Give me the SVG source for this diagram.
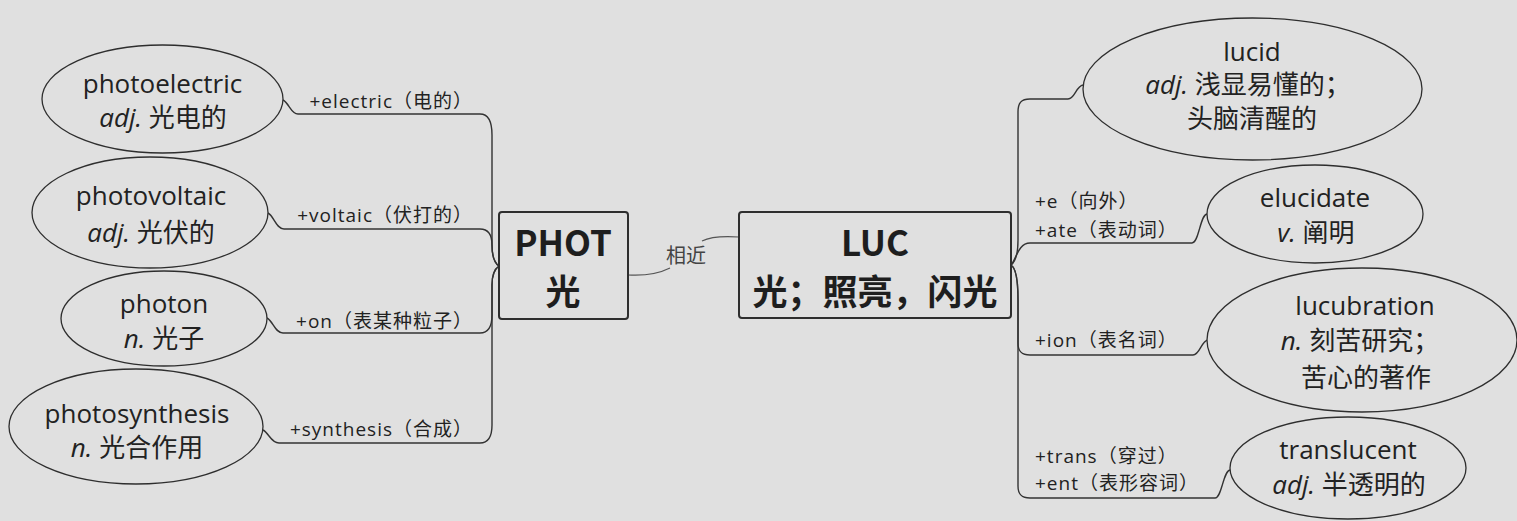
<svg xmlns="http://www.w3.org/2000/svg" width="1517" height="521" viewBox="0 0 1517 521">
<defs>
<style>
.bg{fill:#e0e0e0}
.ell{fill:#e0e0e0;stroke:#2e2e2e;stroke-width:1.3}
.box{fill:#e0e0e0;stroke:#2e2e2e;stroke-width:2}
.con{fill:none;stroke:#333;stroke-width:1.4}
.rel{fill:none;stroke:#555;stroke-width:1.2}
.t{font-family:"Open Sans","Noto Sans CJK SC",sans-serif;font-size:26px;fill:#222;text-anchor:middle}
.it{font-style:italic}
.lbl{font-family:"Open Sans","Noto Sans CJK SC",sans-serif;font-size:19px;letter-spacing:1px;fill:#222}
.end{text-anchor:end}
.big{font-family:"Noto Sans CJK SC","Open Sans",sans-serif;font-size:35px;font-weight:bold;fill:#1e1e1e;text-anchor:middle}
.rl{font-family:"Noto Sans CJK SC",sans-serif;font-size:20px;fill:#444}
</style>
</defs>
<rect class="bg" x="0" y="0" width="1517" height="521"/>
<g id="connectors">
<path class="con" d="M283,100 C289,103 291,114 298,114 H480 C489,114 492,122 492,135 V245 C492,258 496,264 499,266"/>
<path class="con" d="M268,213 C274,216 276,229 284,229 H480 C489,229 492,236 492,245 C492,258 496,264 499,266"/>
<path class="con" d="M267,318 C273,321 275,333 283,333 H480 C489,333 492,326 492,315 V285 C492,272 496,268 499,266"/>
<path class="con" d="M263,430 C269,433 271,443 279,443 H480 C489,443 492,436 492,425 V285 C492,272 496,268 499,266"/>
<path class="con" d="M1011,265 C1015,262 1018,255 1018,240 V112 C1018,103 1021,99 1030,99 H1068 C1075,99 1076,86 1083,85"/>
<path class="con" d="M1011,265 C1016,260 1018,243 1030,243 H1192 C1199,243 1200,215 1207,214"/>
<path class="con" d="M1011,265 C1016,268 1018,278 1018,300 V343 C1018,351 1021,355 1030,355 H1193 C1200,355 1201,341 1208,340"/>
<path class="con" d="M1011,265 C1016,268 1018,278 1018,300 V486 C1018,494 1021,498 1030,498 H1215 C1222,498 1223,471 1230,470"/>
<path class="rel" d="M628,275 C645,276 660,273 670,268"/>
<path class="rel" d="M702,241 C712,236 725,236 739,237"/>
<text class="rl" x="666" y="263">相近</text>
<text class="lbl end" x="473" y="108">+electric（电的）</text>
<text class="lbl end" x="473" y="222">+voltaic（伏打的）</text>
<text class="lbl end" x="473" y="328">+on（表某种粒子）</text>
<text class="lbl end" x="473" y="436">+synthesis（合成）</text>
<text class="lbl" x="1035" y="208">+e（向外）</text>
<text class="lbl" x="1035" y="237">+ate（表动词）</text>
<text class="lbl" x="1035" y="347">+ion（表名词）</text>
<text class="lbl" x="1035" y="463">+trans（穿过）</text>
<text class="lbl" x="1035" y="490">+ent（表形容词）</text>
</g>
<g id="phot">
<rect class="box" x="499" y="212" width="129" height="107" rx="3"/>
<text class="big" x="563" y="256">PHOT</text>
<text class="big" x="563" y="305">光</text>
</g>
<g id="luc">
<rect class="box" x="739" y="212" width="272" height="106" rx="3"/>
<text class="big" x="875" y="256">LUC</text>
<text class="big" x="875" y="305">光；照亮，闪光</text>
</g>
<g id="photoelectric">
<ellipse class="ell" cx="162.5" cy="99" rx="120.5" ry="54"/>
<text class="t" x="162.5" y="93">photoelectric</text>
<text class="t" x="163" y="127"><tspan class="it">adj.</tspan> 光电的</text>
</g>
<g id="photovoltaic">
<ellipse class="ell" cx="150" cy="212.5" rx="118" ry="55.5"/>
<text class="t" x="151" y="205">photovoltaic</text>
<text class="t" x="151" y="242"><tspan class="it">adj.</tspan> 光伏的</text>
</g>
<g id="photon">
<ellipse class="ell" cx="164" cy="318.5" rx="103" ry="47.5"/>
<text class="t" x="164" y="313">photon</text>
<text class="t" x="164" y="348"><tspan class="it">n.</tspan> 光子</text>
</g>
<g id="photosynthesis">
<ellipse class="ell" cx="136" cy="426.5" rx="127" ry="57.5"/>
<text class="t" x="137" y="423">photosynthesis</text>
<text class="t" x="137" y="457"><tspan class="it">n.</tspan> 光合作用</text>
</g>
<g id="lucid">
<ellipse class="ell" cx="1252.5" cy="89" rx="169.5" ry="71"/>
<text class="t" x="1252" y="61">lucid</text>
<text class="t" x="1248" y="94"><tspan class="it">adj.</tspan> 浅显易懂的；</text>
<text class="t" x="1252" y="128">头脑清醒的</text>
</g>
<g id="elucidate">
<ellipse class="ell" cx="1315" cy="214" rx="108" ry="49"/>
<text class="t" x="1315" y="207">elucidate</text>
<text class="t" x="1316" y="242"><tspan class="it">v.</tspan> 阐明</text>
</g>
<g id="lucubration">
<ellipse class="ell" cx="1362" cy="340" rx="155" ry="72"/>
<text class="t" x="1365" y="315">lucubration</text>
<text class="t" x="1360" y="350"><tspan class="it">n.</tspan> 刻苦研究；</text>
<text class="t" x="1366" y="387">苦心的著作</text>
</g>
<g id="translucent">
<ellipse class="ell" cx="1348" cy="468" rx="118" ry="51"/>
<text class="t" x="1348" y="459">translucent</text>
<text class="t" x="1349" y="494"><tspan class="it">adj.</tspan> 半透明的</text>
</g>
</svg>
